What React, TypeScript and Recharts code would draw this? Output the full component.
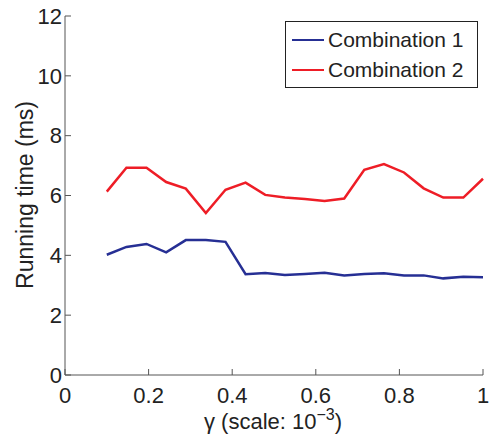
import { Label, Line, LineChart, XAxis, YAxis } from 'recharts'

const GAMMA = [
  0.1, 0.147, 0.195, 0.242, 0.289, 0.337, 0.384, 0.432, 0.479, 0.526,
  0.574, 0.621, 0.668, 0.716, 0.763, 0.811, 0.858, 0.905, 0.953, 1.0,
]
const COMBO_1 = [
  4.02, 4.28, 4.38, 4.1, 4.51, 4.51, 4.45, 3.37, 3.41, 3.34,
  3.38, 3.42, 3.33, 3.38, 3.4, 3.33, 3.33, 3.23, 3.28, 3.27,
]
const COMBO_2 = [
  6.13, 6.93, 6.93, 6.45, 6.23, 5.41, 6.19, 6.43, 6.02, 5.93,
  5.88, 5.82, 5.9, 6.86, 7.05, 6.77, 6.24, 5.93, 5.93, 6.56,
]
const X_TICKS = [0, 0.2, 0.4, 0.6, 0.8, 1]
const Y_TICKS = [0, 2, 4, 6, 8, 10, 12]
const SERIES_NAMES = ['Combination 1', 'Combination 2']

const BLUE = '#262f94'
const RED = '#ee1d26'
const AXIS = '#555'
const INK = '#222'
const FONT = '"Liberation Sans", Arial, Helvetica, sans-serif'

const data = GAMMA.map((x, i) => ({ x, c1: COMBO_1[i], c2: COMBO_2[i] }))

// MATLAB-style boxed legend, laid over the top-right of the plot so it
// doesn't eat into the plot area the way <Legend> would
function BoxLegend() {
  const colors = [BLUE, RED]
  return (
    <div
      style={{
        position: 'absolute',
        left: 285,
        top: 21,
        width: 193,
        height: 67,
        border: `1.5px solid ${INK}`,
        background: '#fff',
        padding: '3px 0',
        fontFamily: FONT,
        fontSize: 21,
        color: INK,
        boxSizing: 'border-box',
      }}
    >
      {SERIES_NAMES.map((name, i) => (
        <div key={name} style={{ display: 'flex', alignItems: 'center', height: 30 }}>
          <span
            style={{
              display: 'inline-block',
              width: 32,
              height: 0,
              borderTop: `2.5px solid ${colors[i]}`,
              margin: '0 4px 0 6px',
            }}
          />
          <span>{name}</span>
        </div>
      ))}
    </div>
  )
}

export default function App() {
  return (
    <div style={{ position: 'absolute', left: 0, top: 0, width: 490, height: 446, background: '#fff' }}>
      <LineChart
        width={490}
        height={446}
        data={data}
        margin={{ top: 16, right: 7, bottom: 41, left: 0 }}
      >
        <XAxis
          dataKey="x"
          type="number"
          domain={[0, 1]}
          ticks={X_TICKS}
          height={30}
          stroke={AXIS}
          tickSize={-6}
          tickMargin={18}
          tick={{ fill: INK, fontSize: 22, fontFamily: FONT }}
        >
          <Label
            content={() => (
              <text x={273} y={429} textAnchor="middle" fill={INK} fontSize={22} fontFamily={FONT}>
                γ (scale: 10
                <tspan fontSize={16} dy={-9}>−3</tspan>
                <tspan dy={9}>)</tspan>
              </text>
            )}
          />
        </XAxis>
        <YAxis
          type="number"
          domain={[0, 12]}
          ticks={Y_TICKS}
          width={65}
          stroke={AXIS}
          tickSize={-6}
          tickMargin={9}
          tick={{ fill: INK, fontSize: 22, fontFamily: FONT }}
        >
          <Label
            content={() => (
              <text
                transform="rotate(-90)"
                x={-195}
                y={33}
                textAnchor="middle"
                fill={INK}
                fontSize={23}
                fontFamily={FONT}
              >
                Running time (ms)
              </text>
            )}
          />
        </YAxis>
        <Line
          dataKey="c1"
          name={SERIES_NAMES[0]}
          stroke={BLUE}
          strokeWidth={2.5}
          dot={false}
          isAnimationActive={false}
        />
        <Line
          dataKey="c2"
          name={SERIES_NAMES[1]}
          stroke={RED}
          strokeWidth={2.5}
          dot={false}
          isAnimationActive={false}
        />
      </LineChart>
      <BoxLegend />
    </div>
  )
}
